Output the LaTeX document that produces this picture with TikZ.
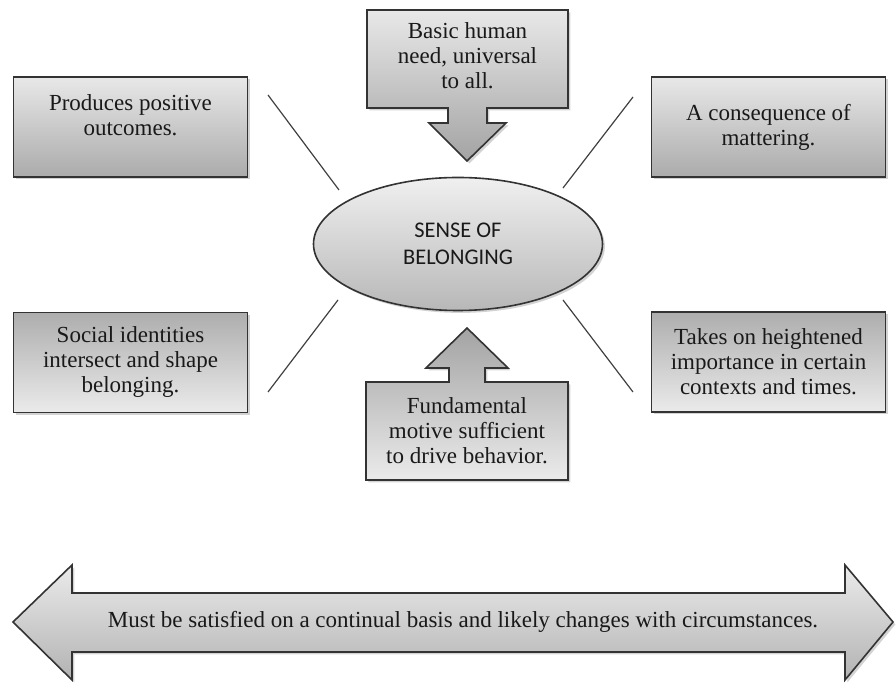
\documentclass[tikz,border=0pt]{standalone}
\usepackage{fontspec}
\setmainfont{Liberation Serif}
\newfontfamily\carlito{Carlito}
\usetikzlibrary{shapes.geometric,shadows}

\begin{document}
\begin{tikzpicture}[x=0.5pt,y=-0.5pt]

\tikzset{
    ombra/.style={
        drop shadow={opacity=0.35, shadow xshift=1.2pt, shadow yshift=-1.2pt}
    },
    testo/.style={
        align=center,
        text=black!90,
        font=\fontsize{11.5}{12.5}\selectfont
    },
    box_top/.style={
        testo, draw=black!80, line width=0.8pt, ombra,
        top color=black!9, bottom color=black!33,
        minimum width=117pt, minimum height=50pt, inner sep=2pt
    },
    box_bottom/.style={
        box_top, top color=black!32, bottom color=black!8
    },
    linea/.style={
        draw=black!75, line width=0.6pt
    }
}

\useasboundingbox (0,0) rectangle (896,683);

% boxes
\node[box_top] (prod) at (130.5,127) {Produces positive\\outcomes.\\[-0.5pt]};
\node[box_top] (conseq) at (768.5,127) {A consequence of\\mattering.};
\node[box_bottom] (social) at (130.5,362.5) {Social identities\\intersect and shape\\belonging.};
\node[box_bottom] (takes) at (768.5,362) {Takes on heightened\\importance in certain\\contexts and times.};

% ellisse
\node[ellipse, draw=black!80, line width=0.8pt, ombra,
      top color=black!6, bottom color=black!28,
      minimum width=144.5pt, minimum height=66.5pt, inner sep=0pt,
      align=center, text=black!90, font=\carlito\fontsize{11.2}{13.5}\selectfont]
      (sob) at (458,244) {SENSE OF\\BELONGING};

% freccia in alto
\draw[draw=black!80, line width=0.8pt, ombra, top color=black!9, bottom color=black!36]
  (367,10) -- (568,10) -- (568,108) -- (487,108) -- (487,123) -- (506,123)
  -- (467,161) -- (429,123) -- (448,123) -- (448,108) -- (367,108) -- cycle;
\node[testo] (basic) at (467.5,56) {Basic human\\need, universal\\to all.};

% freccia in basso
\draw[draw=black!80, line width=0.8pt, ombra, top color=black!36, bottom color=black!8]
  (366,480) -- (568,480) -- (568,382) -- (485,382) -- (485,368) -- (508,368)
  -- (467,328) -- (426,368) -- (449,368) -- (449,382) -- (366,382) -- cycle;
\node[testo] (fund) at (467,431) {Fundamental\\motive sufficient\\to drive behavior.};

% linee
\coordinate (ul_a) at (268,95);  \coordinate (ul_b) at (339,190);
\coordinate (ur_a) at (633,97);  \coordinate (ur_b) at (563,188);
\coordinate (ll_a) at (338,300); \coordinate (ll_b) at (268,392);
\coordinate (lr_a) at (563,300); \coordinate (lr_b) at (633,392);
\draw[linea] (ul_a) -- (ul_b);
\draw[linea] (ur_a) -- (ur_b);
\draw[linea] (ll_a) -- (ll_b);
\draw[linea] (lr_a) -- (lr_b);

% doppia freccia
\draw[draw=black!80, line width=0.8pt, ombra, top color=black!8, bottom color=black!30]
  (13,622) -- (72,565) -- (72,593) -- (845,593) -- (845,565) -- (893,622)
  -- (845,680) -- (845,652) -- (72,652) -- (72,680) -- cycle;
\node[testo] (must) at (463,622) {Must be satisfied on a continual basis and likely changes with circumstances.};

\end{tikzpicture}
\end{document}
